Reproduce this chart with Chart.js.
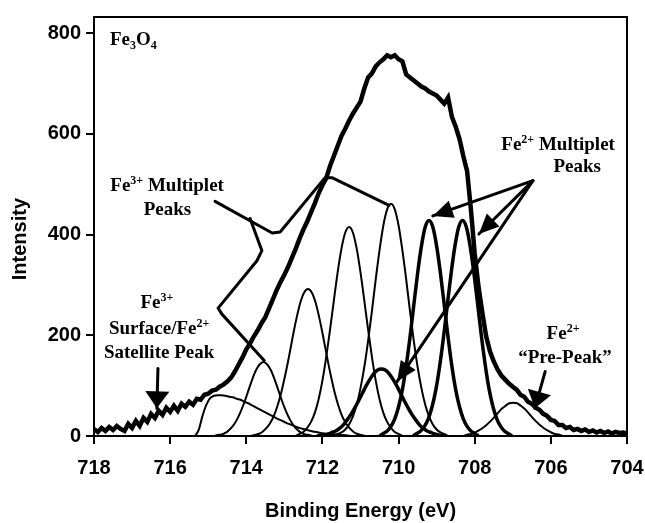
<!DOCTYPE html>
<html>
<head>
<meta charset="utf-8">
<script src="https://cdn.jsdelivr.net/npm/chart.js@4.4.1/dist/chart.umd.min.js"></script>
<style>
  html, body { margin: 0; padding: 0; background: #fff; }
  #xps { display: block; }
</style>
</head>
<body>
<canvas id="xps" width="645" height="523"></canvas>
<script>
// Fe 2p3/2 spectrum of Fe3O4
const xTicks = [704, 706, 708, 710, 712, 714, 716, 718];
const yTicks = [0, 200, 400, 600, 800];

// measured envelope, 718.0 -> 704.0 eV every 0.1 eV
const envStart = 718.0;
const envelope = [
  14, 8, 16, 10, 18, 12, 20, 14, 10, 24,
  16, 30, 20, 36, 28, 44, 36, 50, 42, 56,
  48, 60, 50, 64, 58, 68, 62, 74, 72, 82,
  84, 90, 92, 98, 102, 108, 116, 128, 142, 156,
  172, 184, 198, 210, 224, 236, 254, 272, 290, 306,
  320, 336, 354, 372, 392, 410, 426, 444, 462, 482,
  498, 512, 536, 556, 576, 596, 610, 626, 640, 652,
  664, 690, 712, 720, 734, 742, 748, 756, 752, 756,
  748, 744, 718, 712, 706, 700, 694, 690, 684, 680,
  676, 668, 660, 672, 634, 614, 590, 556, 526, 450,
  362, 296, 245, 198, 168, 148, 132, 120, 112, 104,
  98, 92, 82, 78, 68, 64, 56, 52, 44, 40,
  32, 30, 22, 22, 16, 18, 12, 14, 10, 13,
  8, 11, 7, 10, 6, 9, 5, 8, 6, 7,
  5
];

// fitted components, each listed from its start energy down in 0.1 eV steps
const satStart = 715.35;
const satellite = [0, 12, 40, 62, 75, 80, 81, 81, 80, 78, 77, 74, 72, 68, 65, 61, 57, 53, 49, 45,
  41, 37, 33, 30, 26, 23, 20, 17, 15, 13, 11, 9, 8, 6, 5, 4, 4, 3, 2, 2, 1, 0];
const fe3aStart = 714.85;
const fe3a = [0, 2, 3, 6, 12, 20, 32, 48, 67, 89, 111, 130, 142, 147, 142, 130, 111, 89, 67, 48, 32, 20, 12, 6, 3, 2, 0];
const fe3bStart = 713.88;
const fe3b = [0, 2, 4, 8, 15, 25, 39, 60, 87, 120, 157, 197, 234, 265, 285, 292, 285, 265, 234, 197, 157, 120, 87, 60, 39, 25, 15, 8, 4, 2, 0];
const fe3cStart = 712.7;
const fe3c = [0, 4, 8, 16, 28, 46, 73, 110, 157, 211, 269, 325, 372, 404, 415, 404, 372, 325, 269, 211, 157, 110, 73, 46, 28, 16, 8, 4, 0];
const fe3dStart = 711.7;
const fe3d = [0, 4, 7, 13, 23, 39, 62, 95, 137, 189, 248, 311, 369, 418, 450, 461, 450, 418, 369, 311, 248, 189, 137, 95, 62, 39, 23, 13, 7, 4, 0];
const fe2aStart = 712.15;
const fe2a = [0, 1, 2, 4, 7, 10, 15, 22, 32, 43, 56, 70, 85, 100, 113, 124, 131, 133, 131, 124, 113, 100, 85, 70, 56, 43, 32, 22, 15, 10, 7, 4, 2, 1, 0];
const fe2bStart = 710.5;
const fe2b = [0, 5, 10, 19, 34, 58, 92, 139, 196, 260, 323, 377, 415, 428, 415, 377, 323, 260, 196, 139, 92, 58, 34, 19, 10, 5, 0];
const fe2cStart = 709.62;
const fe2c = [0, 5, 10, 19, 34, 58, 92, 139, 196, 260, 323, 377, 415, 428, 415, 377, 323, 260, 196, 139, 92, 58, 34, 19, 10, 5, 0];
const preStart = 708.29;
const prePeak = [0, 3, 4, 7, 11, 16, 22, 29, 37, 46, 54, 60, 65, 66, 65, 60, 54, 46, 37, 29, 22, 16, 11, 7, 4, 3, 0];

function toPoints(start, values) {
  return values.map((v, i) => ({ x: +(start - i * 0.1).toFixed(2), y: v }));
}

// annotation geometry, in eV / intensity units
const fe3Bracket = [[714.82, 466], [713.32, 403], [713.11, 405], [711.93, 513], [711.75, 513], [710.25, 458]];
const fe3Branch = [[713.9, 432], [713.59, 368], [713.72, 348], [714.74, 254], [714.64, 242], [713.53, 150]];
const fe2Origin = [706.47, 507];
const fe2Tips = [[709.10, 437], [707.89, 401], [710.04, 108]];
const otherArrows = [
  { from: [716.32, 134], to: [716.35, 55] },
  { from: [706.15, 128], to: [706.42, 55] }
];
const notes = [
  { at: [717.58, 777], align: 'left', parts: [['Fe', ''], ['3', 'sub'], ['O', ''], ['4', 'sub']] },
  { at: [716.08, 486], parts: [['Fe', ''], ['3+', 'sup'], [' Multiplet', '']] },
  { at: [716.07, 439], parts: [['Peaks', '']] },
  { at: [716.35, 254], parts: [['Fe', ''], ['3+', 'sup']] },
  { at: [716.29, 203], parts: [['Surface/Fe', ''], ['2+', 'sup']] },
  { at: [716.29, 155], parts: [['Satellite Peak', '']] },
  { at: [705.81, 568], parts: [['Fe', ''], ['2+', 'sup'], [' Multiplet', '']] },
  { at: [705.31, 525], parts: [['Peaks', '']] },
  { at: [705.68, 193], parts: [['Fe', ''], ['2+', 'sup']] },
  { at: [705.63, 144], parts: [['\u201cPre-Peak\u201d', '']] }
];

const serif = '"Liberation Serif", "Times New Roman", serif';
const sans = '"Liberation Sans", Arial, Helvetica, sans-serif';

function drawRich(ctx, parts, x, y, align) {
  const fontOf = k => k ? 'bold 12px ' + serif : 'bold 19px ' + serif;
  const widths = parts.map(([t, k]) => { ctx.font = fontOf(k); return ctx.measureText(t).width; });
  const total = widths.reduce((a, b) => a + b, 0);
  let cx = align === 'left' ? x : x - total / 2;
  parts.forEach(([t, k], i) => {
    ctx.font = fontOf(k);
    const dy = k === 'sup' ? -7 : k === 'sub' ? 4 : 0;
    ctx.fillText(t, cx, y + dy);
    cx += widths[i];
  });
}

function arrowHead(ctx, fx, fy, tx, ty, len, half) {
  const a = Math.atan2(ty - fy, tx - fx);
  ctx.beginPath();
  ctx.moveTo(tx, ty);
  ctx.lineTo(tx - len * Math.cos(a) + half * Math.sin(a), ty - len * Math.sin(a) - half * Math.cos(a));
  ctx.lineTo(tx - len * Math.cos(a) - half * Math.sin(a), ty - len * Math.sin(a) + half * Math.cos(a));
  ctx.closePath();
  ctx.fill();
}

const annotate = {
  id: 'annotate',
  afterDraw(chart) {
    const { ctx, chartArea: ca } = chart;
    const xs = chart.scales.x, ys = chart.scales.y;
    const P = ([e, v]) => [xs.getPixelForValue(e), ys.getPixelForValue(v)];
    ctx.save();
    ctx.strokeStyle = '#000';
    ctx.fillStyle = '#000';
    ctx.lineWidth = 2;
    ctx.strokeRect(ca.left, ca.top, ca.right - ca.left, ca.bottom - ca.top);

    ctx.lineWidth = 3;
    ctx.lineJoin = 'round';
    ctx.lineCap = 'round';
    [fe3Bracket, fe3Branch].forEach(line => {
      ctx.beginPath();
      line.forEach((pt, i) => { const [x, y] = P(pt); i ? ctx.lineTo(x, y) : ctx.moveTo(x, y); });
      ctx.stroke();
    });

    const [ox, oy] = P(fe2Origin);
    fe2Tips.forEach(tip => {
      const [tx, ty] = P(tip);
      ctx.beginPath(); ctx.moveTo(ox, oy); ctx.lineTo(tx, ty); ctx.stroke();
      arrowHead(ctx, ox, oy, tx, ty, 20, 9);
    });
    otherArrows.forEach(a => {
      const [fx, fy] = P(a.from), [tx, ty] = P(a.to);
      ctx.beginPath(); ctx.moveTo(fx, fy); ctx.lineTo(tx, ty); ctx.stroke();
      arrowHead(ctx, fx, fy, tx, ty, 17, 12);
    });

    ctx.textBaseline = 'alphabetic';
    ctx.textAlign = 'left';
    notes.forEach(n => { const [x, y] = P(n.at); drawRich(ctx, n.parts, x, y, n.align); });

    // y axis title sits a little below the axis centre in the figure
    ctx.translate(20, ys.getPixelForValue(391));
    ctx.rotate(-Math.PI / 2);
    ctx.textAlign = 'center';
    ctx.textBaseline = 'middle';
    ctx.font = 'bold 20px ' + sans;
    ctx.fillText('Intensity', 0, 0);
    ctx.restore();
  }
};

const thin = 2, thick = 3.5;
function peak(label, start, values, width) {
  return {
    label, data: toPoints(start, values), borderColor: '#000', borderWidth: width,
    pointRadius: 0, cubicInterpolationMode: 'monotone', fill: false
  };
}

new Chart(document.getElementById('xps'), {
  type: 'line',
  data: {
    datasets: [
      { label: 'Envelope', data: toPoints(envStart, envelope), borderColor: '#000', borderWidth: 4.5,
        pointRadius: 0, tension: 0, fill: false },
      peak('Fe3+ satellite', satStart, satellite, thin),
      peak('Fe3+ 713.5', fe3aStart, fe3a, thin),
      peak('Fe3+ 712.4', fe3bStart, fe3b, thin),
      peak('Fe3+ 711.3', fe3cStart, fe3c, thin),
      peak('Fe3+ 710.2', fe3dStart, fe3d, thin),
      peak('Fe2+ 710.5', fe2aStart, fe2a, thick),
      peak('Fe2+ 709.2', fe2bStart, fe2b, thick),
      peak('Fe2+ 708.3', fe2cStart, fe2c, thick),
      peak('Fe2+ pre-peak', preStart, prePeak, thin)
    ]
  },
  options: {
    responsive: false,
    animation: false,
    layout: { padding: { top: 13, right: 18, left: 0, bottom: 0 } },
    plugins: { legend: { display: false }, tooltip: { enabled: false } },
    scales: {
      x: {
        type: 'linear', reverse: true, min: 704, max: 718,
        afterBuildTicks: s => { s.ticks = xTicks.map(v => ({ value: v })); },
        afterFit: s => { s.height = 87; },
        grid: { drawOnChartArea: false, color: '#000', lineWidth: 2, tickLength: 8 },
        border: { color: '#000', width: 2 },
        ticks: { color: '#000', padding: 12, maxRotation: 0, font: { family: sans, size: 20, weight: 'bold' } },
        title: { display: true, text: 'Binding Energy (eV)', color: '#000',
          padding: { top: 0, bottom: 0 }, font: { family: sans, size: 20, weight: 'bold' } }
      },
      y: {
        min: 0, max: 832,
        afterBuildTicks: s => { s.ticks = yTicks.map(v => ({ value: v })); },
        afterFit: s => { s.width = 94; },
        grid: { drawOnChartArea: false, color: '#000', lineWidth: 2, tickLength: 8 },
        border: { color: '#000', width: 2 },
        ticks: { color: '#000', padding: 5, font: { family: sans, size: 20, weight: 'bold' } }
      }
    }
  },
  plugins: [annotate]
});
</script>
</body>
</html>
